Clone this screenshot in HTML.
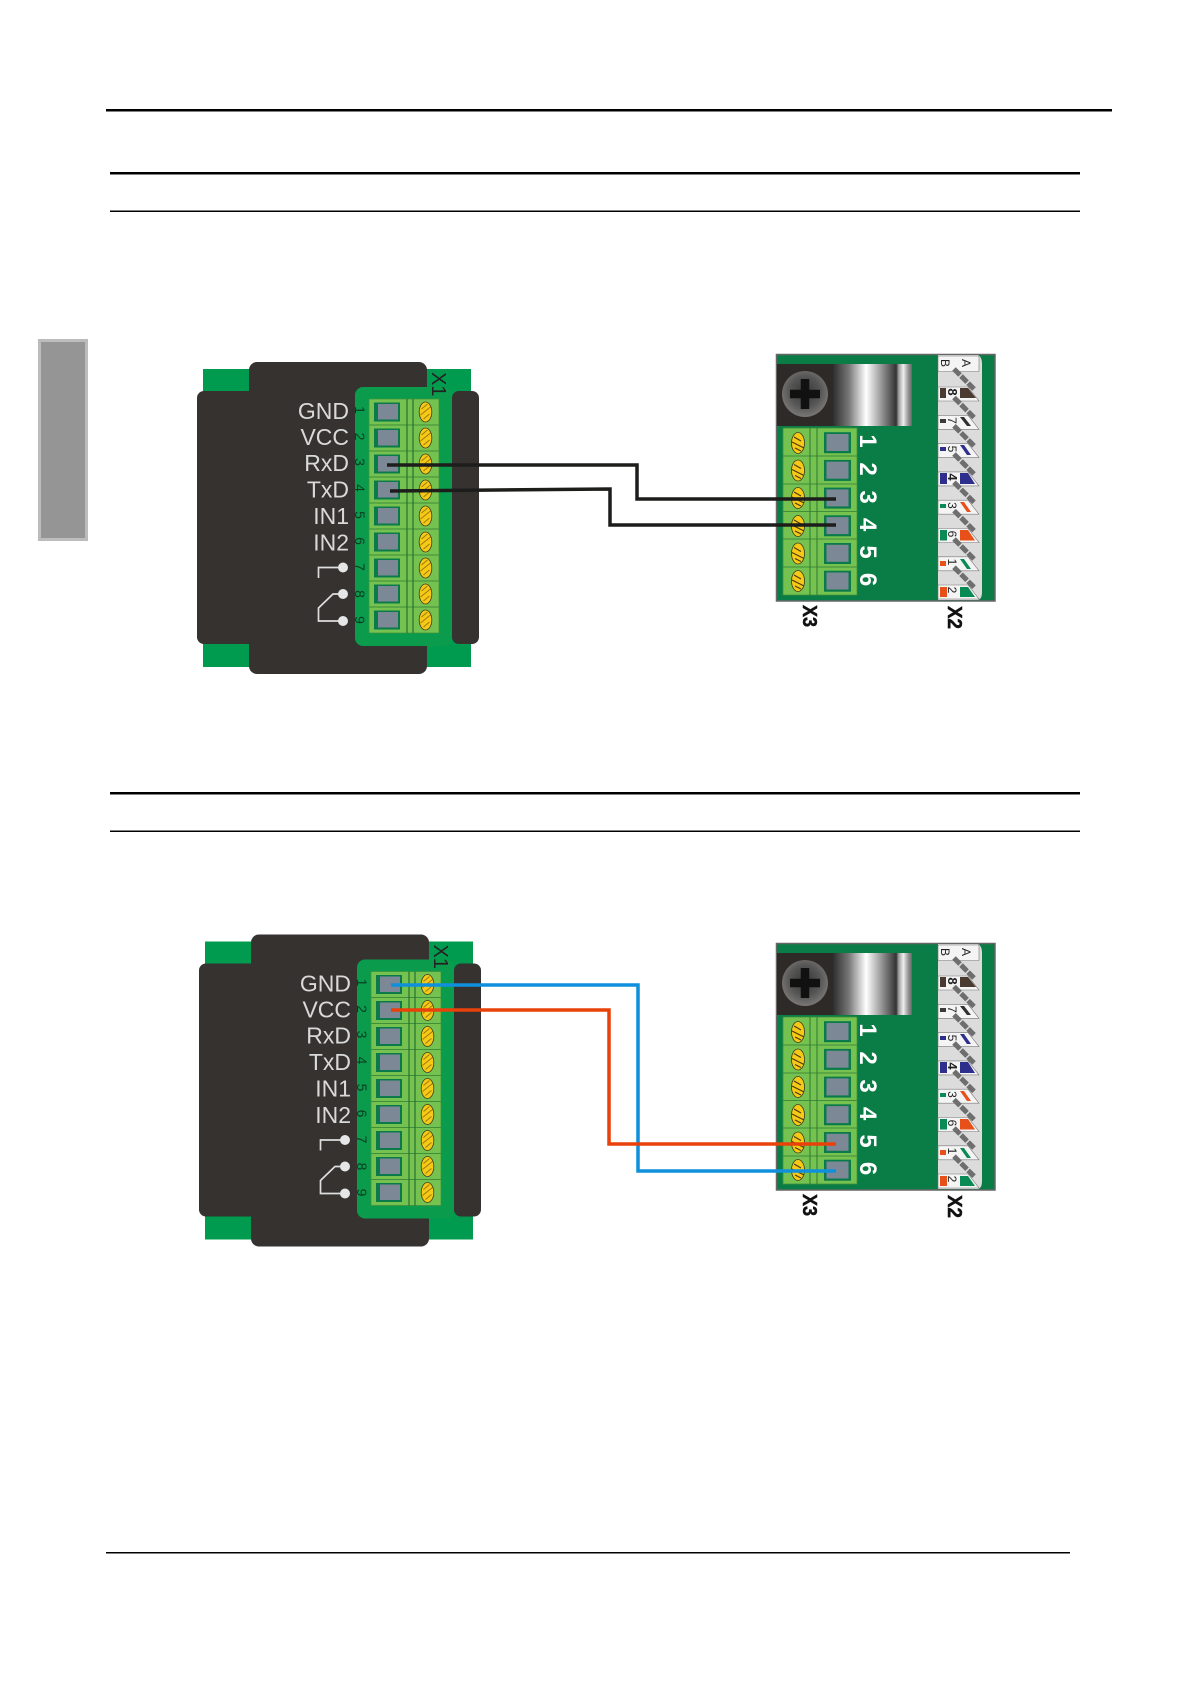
<!DOCTYPE html>
<html><head><meta charset="utf-8"><title>Wiring diagram</title>
<style>html,body{margin:0;padding:0;background:#fff}svg{display:block}text{font-family:"Liberation Sans",sans-serif}</style></head>
<body>
<svg xmlns="http://www.w3.org/2000/svg" width="1190" height="1684" viewBox="0 0 1190 1684">
<defs>
<linearGradient id="metal" x1="0" x2="1" y1="0" y2="0">
<stop offset="0" stop-color="#2e2e2e"/><stop offset=".2" stop-color="#777"/><stop offset=".42" stop-color="#fff"/><stop offset=".64" stop-color="#888"/><stop offset=".8" stop-color="#333"/><stop offset=".83" stop-color="#999"/><stop offset=".89" stop-color="#eee"/><stop offset=".95" stop-color="#999"/><stop offset="1" stop-color="#666"/>
</linearGradient>
<radialGradient id="scr" cx=".5" cy=".45" r=".55"><stop offset="0" stop-color="#3a3836"/><stop offset=".6" stop-color="#555"/><stop offset="1" stop-color="#7a7875"/></radialGradient>
<g id="sq"><rect x="-13" y="-9.500" width="26" height="19" fill="#0b7a4a"/><rect x="-9" y="-8" width="20" height="15.500" fill="#7d8896"/></g>
<g id="rq"><rect x="-13.500" y="-10.500" width="27" height="21" fill="#0b7a4a"/><rect x="-11" y="-8.700" width="22" height="17" fill="#7d8896"/></g>
<g id="sa"><ellipse rx="6.300" ry="10" fill="#f6c916" stroke="#3a3a1a" stroke-width=".8"/><path d="M-4,-3 L2,-8 M-5,3 L5,-5 M-2,7 L4,2" stroke="#9a7a10" stroke-width="1" fill="none"/></g>
<g id="sb"><ellipse rx="6.500" ry="10.500" fill="#f6c916" stroke="#3a3a1a" stroke-width=".8"/><path d="M-4,-6 L3,-2 M-6,-1 L6,5 M-3,5 L3,8" stroke="#4a3a10" stroke-width="1.100" fill="none"/></g>
<g id="left">
<rect x="203" y="369" width="268" height="298" fill="#009b4f"/>
<rect x="197" y="391" width="170" height="253" rx="7" fill="#353230"/>
<rect x="249" y="362" width="178" height="40" rx="8" fill="#353230"/>
<rect x="249" y="634" width="178" height="40" rx="8" fill="#353230"/>
<rect x="355" y="387" width="97" height="259" rx="8" fill="#0a9c4c"/>
<rect x="452" y="391" width="27" height="253" rx="7" fill="#353230"/>
<rect x="369" y="399" width="70" height="234" fill="#76c250" stroke="#3f8f3a" stroke-width=".7"/>
<path d="M369,425H439M369,451H439M369,477H439M369,503H439M369,529H439M369,555H439M369,581H439M369,607H439" stroke="#3f8f3a" stroke-width=".9" fill="none"/>
<path d="M407,399V633M413,399V633" stroke="#1f6a2c" stroke-width="1.100" fill="none"/>
<use href="#sq" x="387" y="412"/><use href="#sq" x="387" y="438"/><use href="#sq" x="387" y="464"/><use href="#sq" x="387" y="490"/><use href="#sq" x="387" y="516"/><use href="#sq" x="387" y="542"/><use href="#sq" x="387" y="568"/><use href="#sq" x="387" y="594"/><use href="#sq" x="387" y="620"/>
<use href="#sa" x="425.500" y="412"/><use href="#sa" x="425.500" y="438"/><use href="#sa" x="425.500" y="464"/><use href="#sa" x="425.500" y="490"/><use href="#sa" x="425.500" y="516"/><use href="#sa" x="425.500" y="542"/><use href="#sa" x="425.500" y="568"/><use href="#sa" x="425.500" y="594"/><use href="#sa" x="425.500" y="620"/>
<path d="M318.500,578V567.500H343M343,594H333L318.500,608V621H343" stroke="#dedede" stroke-width="1.700" fill="none"/>
<circle cx="343" cy="567.500" r="5" fill="#e6e6e6"/><circle cx="343" cy="594" r="5" fill="#e6e6e6"/><circle cx="343" cy="621" r="5" fill="#e6e6e6"/>
</g>
<g id="wedge"><path d="M938,0H968L979,14H938Z" fill="#f4f4f4" stroke="#777" stroke-width=".6"/></g>
<g id="right">
<rect x="776.500" y="354.500" width="218.500" height="246.500" fill="#0a7c45" stroke="#666" stroke-width="1.500"/>
<rect x="777" y="364" width="56" height="62" fill="#2d2a28"/>
<rect x="833" y="364" width="79" height="62" fill="url(#metal)"/>
<circle cx="805" cy="394" r="23" fill="url(#scr)"/>
<path d="M790,394H820M805,379V409" stroke="#111" stroke-width="8.500" fill="none"/>
<rect x="783" y="428" width="74" height="167" fill="#76c250" stroke="#3f8f3a" stroke-width=".8"/>
<path d="M783,456H857M783,484H857M783,511.500H857M783,539H857M783,567H857" stroke="#3f8f3a" stroke-width=".9" fill="none"/>
<path d="M810,428V595M817,428V595" stroke="#2c7a34" stroke-width="1" fill="none"/>
<use href="#rq" x="837.500" y="442.700"/><use href="#rq" x="837.500" y="470.400"/><use href="#rq" x="837.500" y="498.100"/><use href="#rq" x="837.500" y="525.800"/><use href="#rq" x="837.500" y="553.500"/><use href="#rq" x="837.500" y="581.200"/>
<use href="#sb" x="798" y="443"/><use href="#sb" x="798" y="470.500"/><use href="#sb" x="798" y="498"/><use href="#sb" x="798" y="526"/><use href="#sb" x="798" y="553.500"/><use href="#sb" x="798" y="581"/>
<path d="M938,355H978Q982,357 982,364V592Q982,599 978,600H938Z" fill="#dcdcdc"/>
<rect x="938" y="356" width="41" height="15.500" rx="1" fill="#f4f4f4" stroke="#777" stroke-width=".6"/>
<use href="#wedge" y="387"/><use href="#wedge" y="415.300"/><use href="#wedge" y="443.600"/><use href="#wedge" y="471.900"/><use href="#wedge" y="500.200"/><use href="#wedge" y="528.500"/><use href="#wedge" y="556.800"/><use href="#wedge" y="585"/>
<rect x="940" y="388" width="6" height="10" fill="#4a3a30"/><path d="M960,388H968L976,398H960Z" fill="#4a3a30"/>
<rect x="940" y="419" width="6" height="4" fill="#3a3a3a"/><path d="M960,417H964L971,426H967Z" fill="#2f2f2f"/>
<rect x="940" y="447" width="6" height="4" fill="#2e2f8c"/><path d="M960,445H964L971,455H967Z" fill="#2e2f8c"/>
<rect x="940" y="473" width="7" height="11" fill="#2e2f8c"/><path d="M960,473H968L975,484H960Z" fill="#2e2f8c"/>
<rect x="940" y="504" width="6" height="4" fill="#0a8a55"/><path d="M960,502H964L971,512H967Z" fill="#e8501a"/>
<rect x="940" y="530" width="7" height="10.500" fill="#0a8a55"/><path d="M960,530H968L975,540.500H960Z" fill="#e8501a"/>
<rect x="940" y="561" width="6" height="5" fill="#e8501a"/><path d="M960,559H964L971,569H967Z" fill="#0a8a55"/>
<rect x="940" y="587" width="7" height="10" fill="#e8501a"/><path d="M960,587H968L975,597H960Z" fill="#0a8a55"/>
<path d="M954,369L974,389M954,397.500L974,417.500M954,425.800L974,445.800M954,454L974,474M954,482.300L974,502.300M954,510.600L974,530.600M954,539L974,559M954,567.200L974,587.200" stroke="#6e6e6e" stroke-width="5" stroke-dasharray="8.500 1.500" fill="none"/>
</g>
</defs>

<rect width="1190" height="1684" fill="#fff"/>
<rect x="106" y="109" width="1006" height="2.500" fill="#000"/>
<rect x="110" y="172" width="970" height="2.500" fill="#000"/>
<rect x="110" y="210.500" width="970" height="1.500" fill="#000"/>
<rect x="110" y="792" width="970" height="2.500" fill="#000"/>
<rect x="110" y="830.500" width="970" height="1.500" fill="#000"/>
<rect x="106" y="1552" width="964" height="1.500" fill="#000"/>
<rect x="39.500" y="340.500" width="47" height="199" fill="#959595" stroke="#bcbcbc" stroke-width="3"/>

<!-- first pair -->
<use href="#left"/>
<g font-size="23" fill="#d9d9d9" text-anchor="end">
<text x="349" y="419">GND</text><text x="349" y="445">VCC</text><text x="349" y="471">RxD</text><text x="349" y="497.500">TxD</text><text x="349" y="524">IN1</text><text x="349" y="550.500">IN2</text>
</g>
<g font-size="14" fill="#0d3b22" text-anchor="middle">
<text transform="translate(355,410) rotate(90)">1</text><text transform="translate(355,436.500) rotate(90)">2</text><text transform="translate(355,462) rotate(90)">3</text><text transform="translate(355,488) rotate(90)">4</text><text transform="translate(355,515) rotate(90)">5</text><text transform="translate(355,541) rotate(90)">6</text><text transform="translate(355,567) rotate(90)">7</text><text transform="translate(355,594) rotate(90)">8</text><text transform="translate(355,620) rotate(90)">9</text>
</g>
<text transform="translate(432,372) rotate(90)" font-size="20" fill="#222">X1</text>
<use href="#right"/>
<g font-size="24" font-weight="bold" fill="#fff" text-anchor="middle">
<text transform="translate(860,441) rotate(90)">1</text><text transform="translate(860,469) rotate(90)">2</text><text transform="translate(860,497) rotate(90)">3</text><text transform="translate(860,524.500) rotate(90)">4</text><text transform="translate(860,552) rotate(90)">5</text><text transform="translate(860,579.500) rotate(90)">6</text>
</g>
<g font-size="12" fill="#222" text-anchor="middle">
<text transform="translate(941,363) rotate(90)">B</text><text transform="translate(962,363) rotate(90)">A</text>
<text transform="translate(948,392) rotate(90)" font-weight="bold" font-size="13">8</text><text transform="translate(948,420.500) rotate(90)">7</text><text transform="translate(948,449) rotate(90)">5</text><text transform="translate(948,477) rotate(90)" font-weight="bold" font-size="13">4</text><text transform="translate(948,505.500) rotate(90)">3</text><text transform="translate(948,534) rotate(90)">6</text><text transform="translate(948,562) rotate(90)">1</text><text transform="translate(948,590) rotate(90)">2</text>
</g>
<text transform="translate(803,605) rotate(90)" font-size="20" font-weight="bold" fill="#111" stroke="#111" stroke-width=".5" textLength="22" lengthAdjust="spacingAndGlyphs">X3</text>
<text transform="translate(948,606) rotate(90)" font-size="20" font-weight="bold" fill="#111" stroke="#111" stroke-width=".5" textLength="23" lengthAdjust="spacingAndGlyphs">X2</text>
<path d="M387,465H637V499H836" fill="none" stroke="#1d1d1b" stroke-width="3.500"/>
<path d="M390,491L610,489V525H836" fill="none" stroke="#1d1d1b" stroke-width="3.500"/>

<!-- second pair -->
<g transform="translate(2,572.500)"><use href="#left"/>
<g font-size="23" fill="#d9d9d9" text-anchor="end">
<text x="349" y="419">GND</text><text x="349" y="445">VCC</text><text x="349" y="471">RxD</text><text x="349" y="497.500">TxD</text><text x="349" y="524">IN1</text><text x="349" y="550.500">IN2</text>
</g>
<g font-size="14" fill="#0d3b22" text-anchor="middle">
<text transform="translate(355,410) rotate(90)">1</text><text transform="translate(355,436.500) rotate(90)">2</text><text transform="translate(355,462) rotate(90)">3</text><text transform="translate(355,488) rotate(90)">4</text><text transform="translate(355,515) rotate(90)">5</text><text transform="translate(355,541) rotate(90)">6</text><text transform="translate(355,567) rotate(90)">7</text><text transform="translate(355,594) rotate(90)">8</text><text transform="translate(355,620) rotate(90)">9</text>
</g>
<text transform="translate(432,372) rotate(90)" font-size="20" fill="#222">X1</text>
</g>
<g transform="translate(0,589)"><use href="#right"/>
<g font-size="24" font-weight="bold" fill="#fff" text-anchor="middle">
<text transform="translate(860,441) rotate(90)">1</text><text transform="translate(860,469) rotate(90)">2</text><text transform="translate(860,497) rotate(90)">3</text><text transform="translate(860,524.500) rotate(90)">4</text><text transform="translate(860,552) rotate(90)">5</text><text transform="translate(860,579.500) rotate(90)">6</text>
</g>
<g font-size="12" fill="#222" text-anchor="middle">
<text transform="translate(941,363) rotate(90)">B</text><text transform="translate(962,363) rotate(90)">A</text>
<text transform="translate(948,392) rotate(90)" font-weight="bold" font-size="13">8</text><text transform="translate(948,420.500) rotate(90)">7</text><text transform="translate(948,449) rotate(90)">5</text><text transform="translate(948,477) rotate(90)" font-weight="bold" font-size="13">4</text><text transform="translate(948,505.500) rotate(90)">3</text><text transform="translate(948,534) rotate(90)">6</text><text transform="translate(948,562) rotate(90)">1</text><text transform="translate(948,590) rotate(90)">2</text>
</g>
<text transform="translate(803,605) rotate(90)" font-size="20" font-weight="bold" fill="#111" stroke="#111" stroke-width=".5" textLength="22" lengthAdjust="spacingAndGlyphs">X3</text>
<text transform="translate(948,606) rotate(90)" font-size="20" font-weight="bold" fill="#111" stroke="#111" stroke-width=".5" textLength="23" lengthAdjust="spacingAndGlyphs">X2</text>
</g>
<path d="M391,985H638V1171H836" fill="none" stroke="#0f8fdc" stroke-width="3.500"/>
<path d="M391,1010H609V1144H836" fill="none" stroke="#e8410a" stroke-width="3.500"/>
</svg>
</body></html>
